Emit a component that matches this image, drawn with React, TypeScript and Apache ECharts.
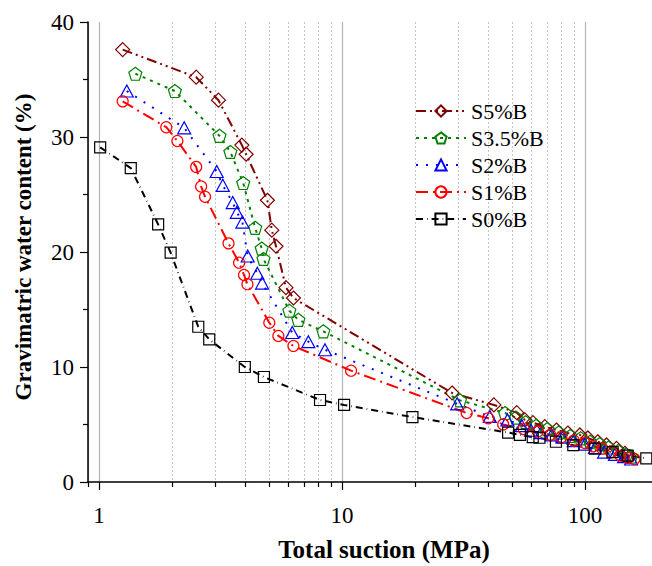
import React, { useEffect, useRef } from "react";
import * as echarts from "echarts";

// ---- Data ----
const seriesNames = ["S5%B", "S3.5%B", "S2%B", "S1%B", "S0%B"];

const suctionS5 = [1.25, 2.51, 3.10, 3.87, 4.03, 4.93, 5.14, 5.35, 5.88, 6.31, 28.4, 42.2, 52.4, 56.6, 61.1, 68.4, 76.4, 85.1, 95.4, 102.9, 113, 122.8, 135, 146, 153];
const waterS5 = [37.6, 35.2, 33.2, 29.3, 28.5, 24.5, 21.9, 20.5, 16.9, 16.0, 7.74, 6.7, 6.03, 5.4, 5.16, 4.81, 4.52, 4.26, 4.09, 3.83, 3.5, 3.22, 2.93, 2.5, 2.2];

const suctionS35 = [1.41, 2.05, 3.13, 3.47, 3.92, 4.39, 4.67, 4.75, 6.07, 6.61, 8.38, 30.6, 46.9, 52, 57, 63, 70, 78, 87, 96, 105, 115, 125, 137, 148, 155];
const waterS35 = [35.5, 34.0, 30.1, 28.7, 26.0, 22.1, 20.3, 19.4, 14.9, 14.1, 13.1, 7.1, 6.0, 5.6, 5.2, 4.9, 4.6, 4.3, 4.0, 3.8, 3.5, 3.3, 3.0, 2.7, 2.4, 2.2];

const suctionS2 = [1.30, 2.24, 3.05, 3.23, 3.55, 3.69, 3.89, 4.09, 4.48, 4.69, 6.24, 7.27, 8.51, 29.8, 40.6, 48, 55, 60, 66, 73, 81, 90, 100, 110, 120, 133, 145, 155];
const waterS2 = [34.0, 30.8, 27.0, 25.8, 24.3, 23.45, 22.6, 19.65, 18.15, 17.3, 13.0, 12.2, 11.5, 6.8, 5.7, 5.4, 4.9, 4.5, 4.3, 4.1, 3.9, 3.6, 3.3, 3.0, 2.6, 2.4, 2.2, 2.0];

const suctionS1 = [1.25, 1.89, 2.10, 2.51, 2.63, 2.73, 3.41, 3.77, 3.95, 4.08, 5.02, 5.47, 6.31, 10.9, 32.6, 40.0, 46.1, 56, 64, 72, 80, 90, 100, 108, 118, 128, 140, 150, 160];
const waterS1 = [33.1, 30.85, 29.65, 27.4, 25.7, 24.8, 20.75, 19.07, 18.0, 17.2, 13.85, 12.7, 11.83, 9.68, 6.0, 5.54, 5.01, 4.6, 4.4, 4.1, 3.9, 3.6, 3.4, 3.1, 2.9, 2.6, 2.3, 2.1, 2.0];

const suctionS0 = [1.01, 1.35, 1.75, 1.97, 2.56, 2.84, 3.98, 4.77, 8.12, 10.2, 19.5, 48.3, 54, 61, 65, 76, 89.6, 110, 130, 150, 179];
const waterS0 = [29.1, 27.3, 22.4, 19.94, 13.5, 12.4, 10.0, 9.13, 7.13, 6.7, 5.65, 4.3, 4.1, 3.9, 3.85, 3.5, 3.2, 2.9, 2.6, 2.3, 2.06];

// x axis: minor tick positions (log decades)
const minorTicks = [0.9, 2, 3, 4, 5, 6, 7, 8, 9, 20, 30, 40, 50, 60, 70, 80, 90];
const xMin = 0.9;
const xMax = 200;
const yMin = 0;
const yMax = 40;
const yInterval = 10;

const xTitle = "Total suction (MPa)";
const yTitle = "Gravimatric water content (%)";

const FONT = "'Liberation Serif', 'Times New Roman', serif";

const pentagon = "path://M0,-1 L0.951,-0.309 L0.588,0.809 L-0.588,0.809 L-0.951,-0.309 Z";

function zip(xs: number[], ys: number[]) {
  return xs.map((x, i) => [x, ys[i]]);
}

function makeSeries(
  name: string,
  xs: number[],
  ys: number[],
  color: string,
  dash: number[],
  symbol: string,
  size: number | number[]
) {
  return {
    name,
    type: "line",
    data: zip(xs, ys),
    symbol,
    symbolSize: size,
    showAllSymbol: true,
    lineStyle: { color, width: 2, type: dash },
    itemStyle: { color: "rgba(0,0,0,0)", borderColor: color, borderWidth: 1.2 },
    emphasis: { disabled: true },
    z: 3,
  };
}

export default function App() {
  const ref = useRef<HTMLDivElement>(null);

  useEffect(() => {
    if (!ref.current) return;
    const chart = echarts.init(ref.current, undefined, { renderer: "svg" });

    const option: any = {
      animation: false,
      backgroundColor: "#fff",
      grid: { left: 88, right: 0, top: 22, bottom: 84, containLabel: false },
      xAxis: {
        type: "log",
        logBase: 10,
        min: xMin,
        max: xMax,
        axisLine: { show: true, onZero: false, lineStyle: { color: "#000", width: 1.5 } },
        axisTick: { show: true, inside: false, length: 8, lineStyle: { color: "#000", width: 1.2 } },
        axisLabel: {
          show: true,
          margin: 22,
          color: "#000",
          fontFamily: FONT,
          fontSize: 23,
          showMinLabel: false,
          showMaxLabel: false,
        },
        splitLine: { show: true, lineStyle: { color: "#b4b4b4", width: 1.2 } },
        minorTick: { show: false },
      },
      yAxis: {
        type: "value",
        min: yMin,
        max: yMax,
        interval: yInterval,
        axisLine: { show: true, lineStyle: { color: "#000", width: 1.5 } },
        axisTick: { show: true, inside: false, length: 8, lineStyle: { color: "#000", width: 1.2 } },
        minorTick: { show: true, splitNumber: 2, length: 5, lineStyle: { color: "#000", width: 1.2 } },
        axisLabel: { margin: 14, color: "#000", fontFamily: FONT, fontSize: 23 },
        splitLine: { show: false },
      },
      legend: {
        data: seriesNames,
        orient: "vertical",
        left: 410,
        top: 95,
        itemWidth: 50,
        itemHeight: 14,
        itemGap: 5,
        textStyle: { fontFamily: FONT, fontSize: 22, color: "#000" },
        selectedMode: false,
      },
      graphic: [
        {
          type: "text",
          x: 384,
          y: 549,
          style: {
            text: xTitle,
            font: `bold 25px ${FONT}`,
            fill: "#000",
            align: "center",
            verticalAlign: "middle",
          },
        },
        {
          type: "text",
          x: 23,
          y: 247,
          rotation: Math.PI / 2,
          style: {
            text: yTitle,
            font: `bold 23px ${FONT}`,
            fill: "#000",
            align: "center",
            verticalAlign: "middle",
          },
        },
      ],
      series: [
        {
          type: "custom",
          name: "minor",
          silent: true,
          clip: false,
          z: 1,
          data: minorTicks.map((v) => [v, yMin]),
          renderItem: (params: any, api: any) => {
            const v = api.value(0);
            const bot = api.coord([v, yMin]);
            const top = api.coord([v, yMax]);
            const x = Math.round(bot[0]) + 0.5;
            const children: any[] = [
              {
                type: "line",
                shape: { x1: x, y1: bot[1], x2: x, y2: bot[1] + 5 },
                style: { stroke: "#000", lineWidth: 1.2 },
              },
            ];
            if (v > 1) {
              children.push({
                type: "line",
                shape: { x1: x, y1: top[1], x2: x, y2: bot[1] },
                style: { stroke: "#c4c4c4", lineWidth: 1, lineDash: [2, 2] },
              });
            }
            return { type: "group", children };
          },
        },
        makeSeries(seriesNames[0], suctionS5, waterS5, "#800000", [10, 4, 2, 4, 2, 4], "diamond", 14),
        makeSeries(seriesNames[1], suctionS35, waterS35, "#008000", [3, 5], pentagon, 13),
        makeSeries(seriesNames[2], suctionS2, waterS2, "#0000ff", [2, 8], "triangle", [13, 12]),
        makeSeries(seriesNames[3], suctionS1, waterS1, "#ff0000", [12, 5, 2, 5], "circle", 11),
        makeSeries(seriesNames[4], suctionS0, waterS0, "#000000", [7, 4, 0.6, 4], "rect", 11),
      ],
    };

    chart.setOption(option);
    return () => chart.dispose();
  }, []);

  return (
    <div
      style={{
        position: "fixed",
        left: 0,
        top: 0,
        width: 652,
        height: 566,
        overflow: "hidden",
        background: "#fff",
      }}
    >
      <div ref={ref} style={{ width: 658, height: 566 }} />
    </div>
  );
}
